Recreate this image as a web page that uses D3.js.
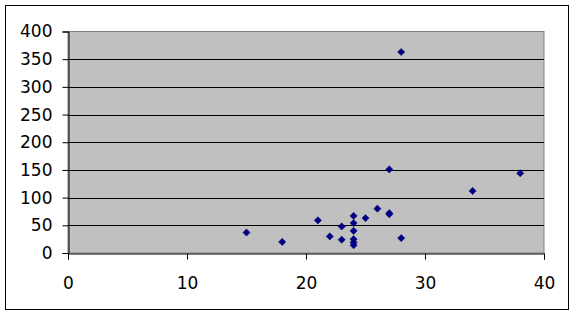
<!DOCTYPE html>
<html><head><meta charset="utf-8">
<script src="https://cdn.jsdelivr.net/npm/d3@7"></script>
<style>body{margin:0;background:#fff}svg{display:block}</style>
</head><body>
<script>
const xValues = [15, 18, 21, 22, 23, 23, 24, 24, 24, 24, 24, 24, 25, 26, 27, 27, 27, 28, 28, 34, 38];
const yValues = [37, 20, 59, 30, 48, 24, 67, 54, 40, 25, 19, 14, 63, 80, 72, 70, 151, 363, 27, 112, 144];
const xTicks = [0, 10, 20, 30, 40];
const yTicks = [0, 50, 100, 150, 200, 250, 300, 350, 400];

const W = 574, H = 315;
const svg = d3.select("body").append("svg").attr("width", W).attr("height", H);
svg.append("rect").attr("width", W).attr("height", H).attr("fill", "#fff");
svg.append("rect").attr("x", 5.5).attr("y", 5.5).attr("width", 563).attr("height", 304)
  .attr("fill", "none").attr("stroke", "#000");

const L = 68, R = 544, T = 31.5, B = 253;
const x = d3.scaleLinear().domain([0, 40]).range([L, R]);
const y = d3.scaleLinear().domain([0, 400]).range([B, T]);

svg.append("rect").attr("x", L).attr("y", T).attr("width", R - L).attr("height", B - T)
  .attr("fill", "#c0c0c0").attr("stroke", "#808080");

svg.append("g").selectAll("line").data(yTicks.filter(d => d > 0 && d < 400)).join("line")
  .attr("x1", L).attr("x2", R).attr("y1", d => Math.round(y(d)) + 0.5).attr("y2", d => Math.round(y(d)) + 0.5)
  .attr("stroke", "#000");

const fmt = d => String(d);
const yAxis = svg.append("g").attr("transform", `translate(${L + 0.5},0)`)
  .call(d3.axisLeft(y).tickValues(yTicks).tickFormat(fmt).tickSize(6).tickPadding(10));
const xAxis = svg.append("g").attr("transform", `translate(0,${B + 0.5})`)
  .call(d3.axisBottom(x).tickValues(xTicks).tickFormat(fmt).tickSize(6).tickPadding(17));
[yAxis, xAxis].forEach(g => {
  g.select(".domain").attr("stroke", "#000");
  g.selectAll(".tick line").attr("stroke", "#000");
  g.selectAll("text").attr("font-family", "DejaVu Sans").attr("font-size", 17).attr("fill", "#000");
});

const pts = xValues.map((v, i) => [v, yValues[i]]);
const sym = d3.symbol().type(d3.symbolSquare).size(26);
svg.append("g").selectAll("path").data(pts).join("path")
  .attr("d", sym)
  .attr("transform", d => `translate(${x(d[0])},${y(d[1])}) rotate(45)`)
  .attr("fill", "#000080").attr("stroke", "#000080").attr("stroke-width", 0.5);
</script>
</body></html>
